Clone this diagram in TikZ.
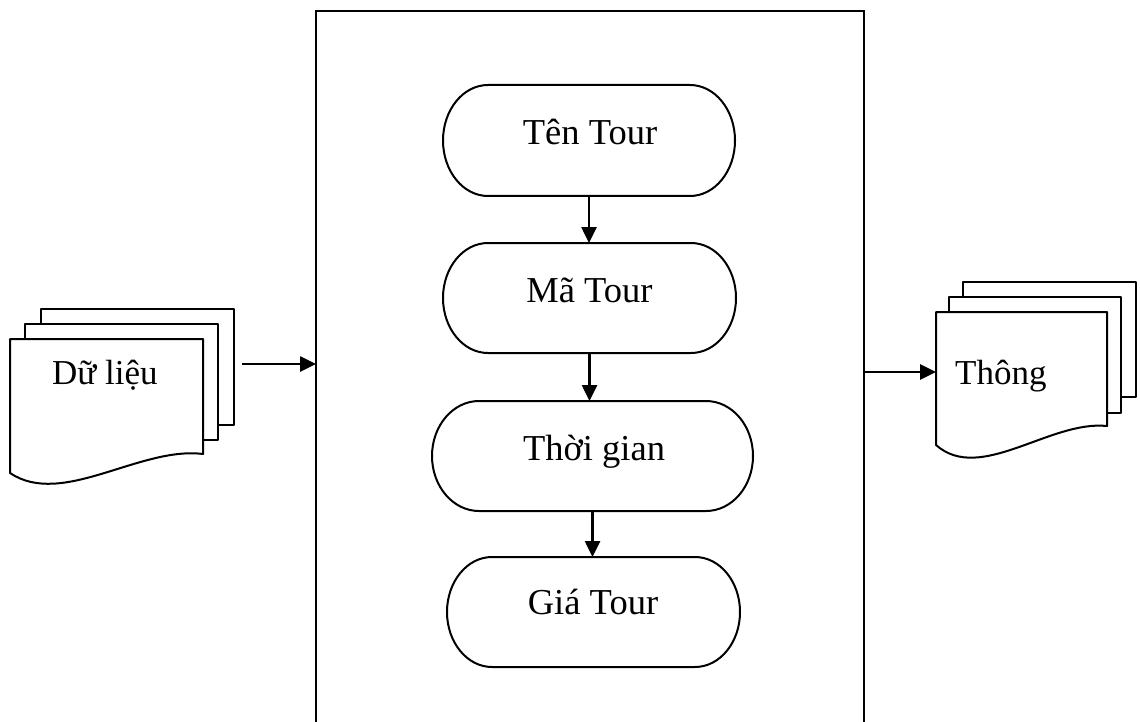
\documentclass[tikz,border=0pt]{standalone}
\usepackage{fontspec}
\setmainfont{Liberation Serif}
\usetikzlibrary{arrows.meta}

\tikzset{
  outline/.style={draw=black, line width=2pt, fill=white, line join=round},
  frameline/.style={draw=black, line width=2.2pt},
  arr/.style={draw=black, line width=2.6pt, -{Triangle[length=16pt,width=15pt]}},
  caption/.style={font=\fontsize{36.5}{40}\selectfont, anchor=base, inner sep=0pt},
  sidecaption/.style={font=\fontsize{35}{38}\selectfont, anchor=base west, inner sep=0pt},
  holder/.style={inner sep=0pt, outer sep=0pt, draw=none},
}

% terminator box: name, centre x, centre y, width, height, end radius, text x, text baseline, text
\newcommand\terminator[9]{%
  \node[holder, minimum width=#4pt, minimum height=#5pt] (#1) at (#2,#3) {};
  \draw[outline] ([xshift=#6pt]#1.north west) -- ([xshift=-#6pt]#1.north east)
    arc[start angle=-90, end angle=90, x radius=#6, y radius=#5/2]
    -- ([xshift=#6pt]#1.south west)
    arc[start angle=90, end angle=270, x radius=#6, y radius=#5/2] -- cycle;
  \node[caption] (#1-text) at (#7,#8) {#9};
}

\begin{document}
\begin{tikzpicture}[x=1pt, y=-1pt]
  \useasboundingbox (0,0) rectangle (1140,722);
  \clip (0,0) rectangle (1140,722);
  \fill[white] (0,0) rectangle (1140,722);

  % processing frame, open below the page edge
  \node[holder, minimum width=548pt, minimum height=740pt] (frame) at (590,381) {};
  \draw[frameline] (frame.south west) -- (frame.north west) -- (frame.north east) -- (frame.south east);

  % steps inside the frame
  \terminator{ten}{589}{140.5}{292}{111}{45}{590}{145}{Tên Tour}
  \terminator{ma}{589.5}{298}{293}{110}{45}{589.5}{302}{Mã Tour}
  \terminator{thoigian}{592.5}{456}{321}{110}{47}{594}{460}{Thời gian}
  \terminator{gia}{593.5}{612}{293}{110}{45}{593}{614}{Giá Tour}

  \draw[arr] (ten.south) -- (ten.south |- ma.north);
  \draw[arr] (ma.south) -- (ma.south |- thoigian.north);
  \draw[arr] (thoigian.south) -- (thoigian.south |- gia.north);

  % input document stack
  \node[holder, minimum width=193pt, minimum height=116pt] (inback) at (137.5,367) {};
  \draw[outline] (inback.north west) rectangle (inback.south east);
  \node[holder, minimum width=193pt, minimum height=116pt] (inmid) at (121.5,382) {};
  \draw[outline] (inmid.north west) rectangle (inmid.south east);
  \node[holder, minimum width=193pt, minimum height=115pt] (infront) at (106.5,396.5) {};
  \draw[outline] (10,339) -- (203,339) -- (203,454)
    .. controls (140,446) and (62,508) .. (10,473) -- cycle;
  \node[sidecaption] (intext) at (52,384) {Dữ liệu};

  % output document stack
  \node[holder, minimum width=173pt, minimum height=115pt] (outback) at (1049.5,339.5) {};
  \draw[outline] (outback.north west) rectangle (outback.south east);
  \node[holder, minimum width=172pt, minimum height=116pt] (outmid) at (1035,355) {};
  \draw[outline] (outmid.north west) rectangle (outmid.south east);
  \node[holder, minimum width=171pt, minimum height=114pt] (outfront) at (1021.5,372) {};
  \draw[outline] (936,312) -- (1107,312) -- (1107,426)
    .. controls (1050,420) and (980,484) .. (936,445) -- cycle;
  \node[sidecaption] (outtext) at (955,384) {Thông};

  % data flow into and out of the frame
  \coordinate (inflow) at (242,364);
  \draw[arr] (inflow) -- (inflow -| frame.west);
  \draw[arr] (frame.east |- outfront.west) -- (outfront.west);
\end{tikzpicture}
\end{document}
